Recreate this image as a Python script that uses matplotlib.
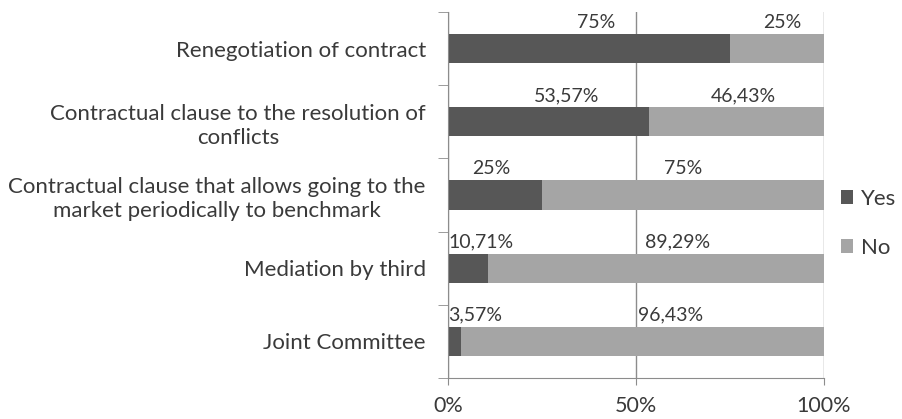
import matplotlib.pyplot as plt
from matplotlib.ticker import FixedLocator, FuncFormatter

categories = [
    'Renegotiation of contract',
    'Contractual clause to the resolution of\nconflicts',
    'Contractual clause that allows going to the\nmarket periodically to benchmark',
    'Mediation by third',
    'Joint Committee',
]
yes = [75.0, 53.57, 25.0, 10.71, 3.57]
no = [25.0, 46.43, 75.0, 89.29, 96.43]

# where each pair of value labels sits along the bar (in % units)
yes_label_x = [39.5, 31.5, 11.5, 0.0, 0.0]
no_label_x = [89.0, 78.5, 62.5, 52.5, 50.5]
label_ha = ['center', 'center', 'center', 'left', 'left']

dark = '#575757'
light = '#a5a5a5'
text_color = '#3a3a3a'
axis_color = '#8c8c8c'


def pct(v):
    if v == int(v):
        return '%d%%' % v
    return ('%.2f%%' % v).replace('.', ',')


plt.rcParams['font.family'] = ['Lato', 'DejaVu Sans']

fig = plt.figure(figsize=(9.02, 4.19), dpi=100, facecolor='w')
ax = fig.add_axes([0.4967, 0.0979, 0.4168, 0.8735])

ypos = list(range(len(categories)))
bar_h = 0.4
ax.barh(ypos, yes, height=bar_h, color=dark, label='Yes', zorder=2)
ax.barh(ypos, no, left=yes, height=bar_h, color=light, label='No', zorder=2)

for i in ypos:
    top = i - bar_h / 2 - 0.04
    ax.text(yes_label_x[i], top, pct(yes[i]), ha=label_ha[i], va='bottom',
            fontsize=14, color=text_color)
    ax.text(no_label_x[i], top, pct(no[i]), ha=label_ha[i], va='bottom',
            fontsize=14, color=text_color)

ax.set_xlim(0, 100)
ax.set_ylim(len(categories) - 0.5, -0.5)

ax.xaxis.set_major_locator(FixedLocator([0, 50, 100]))
ax.xaxis.set_major_formatter(FuncFormatter(lambda v, p: '%d%%' % v))
ax.grid(axis='x', color=axis_color, linewidth=1, zorder=1)
ax.tick_params(axis='x', length=5, color=axis_color, labelsize=15.5,
               labelcolor=text_color, pad=8)

# category names sit between boundary ticks on the y axis
ax.set_yticks(ypos)
ax.set_yticklabels(categories, fontsize=16, color=text_color,
                   multialignment='center', linespacing=1.25)
ax.tick_params(axis='y', which='major', length=0, pad=16)
ax.set_yticks([i - 0.5 for i in range(len(categories) + 1)], minor=True)
ax.tick_params(axis='y', which='minor', length=7, color=axis_color)

for side in ('top', 'right'):
    ax.spines[side].set_visible(False)
for side in ('left', 'bottom'):
    ax.spines[side].set_color(axis_color)

leg = fig.legend(*ax.get_legend_handles_labels(), loc='center left',
                 bbox_to_anchor=(0.932, 0.467), frameon=False,
                 fontsize=16, handlelength=0.55, handleheight=0.55,
                 handletextpad=0.35, labelspacing=1.3, borderaxespad=0,
                 borderpad=0)
for t in leg.get_texts():
    t.set_color(text_color)

fig.savefig('out.png', dpi=100, facecolor='w')
